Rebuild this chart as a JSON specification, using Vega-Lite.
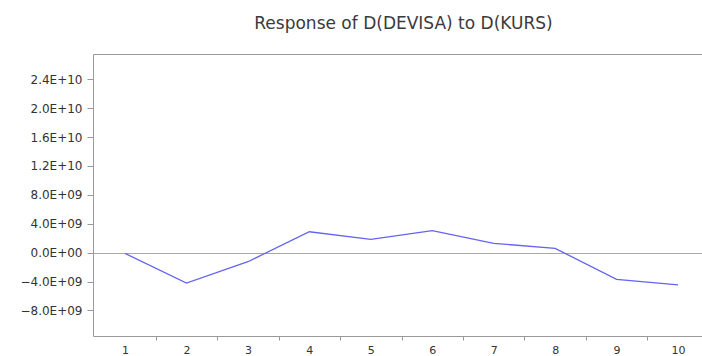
{
  "$schema": "https://vega.github.io/schema/vega-lite/v6.json",
  "autosize": "none",
  "padding": {"left": 93, "top": 54, "right": 0, "bottom": 20},
  "width": 609,
  "height": 282,
  "background": "white",
  "config": {
    "view": {"stroke": "transparent", "strokeWidth": 0},
    "font": "DejaVu Sans"
  },
  "title": {
    "text": "Response of D(DEVISA) to D(KURS)",
    "font": "DejaVu Sans",
    "fontSize": 17,
    "fontWeight": "normal",
    "color": "#3a3a3a",
    "anchor": "middle",
    "frame": "group",
    "dx": 6,
    "offset": 21
  },
  "data": {
    "values": [
      {"period": 1, "response": -0.1e9},
      {"period": 2, "response": -4.2e9},
      {"period": 3, "response": -1.25e9},
      {"period": 4, "response": 2.9e9},
      {"period": 5, "response": 1.85e9},
      {"period": 6, "response": 3.05e9},
      {"period": 7, "response": 1.3e9},
      {"period": 8, "response": 0.6e9},
      {"period": 9, "response": -3.7e9},
      {"period": 10, "response": -4.45e9}
    ]
  },
  "resolve": {"axis": {"x": "independent"}},
  "layer": [
    {
      "mark": {"type": "line", "color": "#6464f0", "strokeWidth": 1.3},
      "encoding": {
        "x": {
          "field": "period",
          "type": "quantitative",
          "scale": {"domain": [0.479, 10.39], "nice": false, "zero": false},
          "axis": {
            "title": null,
            "orient": "bottom",
            "values": [1, 1.5, 2, 2.5, 3, 3.5, 4, 4.5, 5, 5.5, 6, 6.5, 7, 7.5, 8, 8.5, 9, 9.5, 10],
            "labelExpr": "datum.value % 1 === 0 ? datum.value : ''",
            "tickOpacity": {"condition": {"test": "datum.value % 1 === 0", "value": 0}, "value": 1},
            "tickSize": 4,
            "tickColor": "#999999",
            "domainColor": "#999999",
            "labelPadding": 4,
            "labelFontSize": 11,
            "labelFont": "DejaVu Sans",
            "labelColor": "#333333",
            "labelBaseline": "top",
            "grid": false,
            "labelOverlap": false,
            "labelFlush": false
          }
        },
        "y": {
          "field": "response",
          "type": "quantitative",
          "scale": {"domain": [-11.53e9, 27.5e9], "nice": false, "zero": false},
          "axis": {
            "title": null,
            "values": [-8e9, -4e9, 0, 4e9, 8e9, 12e9, 16e9, 20e9, 24e9],
            "labelExpr": "datum.value == 0 ? '0.0E+00' : (format(datum.value / pow(10, floor(log(abs(datum.value)) / LN10 + 1e-9)), '.1f') + 'E+' + (floor(log(abs(datum.value)) / LN10 + 1e-9) < 10 ? '0' : '') + floor(log(abs(datum.value)) / LN10 + 1e-9))",
            "tickSize": 6,
            "tickColor": "#999999",
            "domainColor": "#999999",
            "labelPadding": 5,
            "labelFontSize": 12,
            "labelFont": "DejaVu Sans",
            "labelColor": "#333333",
            "grid": true,
            "gridColor": "#a8a8a8",
            "gridOpacity": {"condition": {"test": "datum.value === 0", "value": 1}, "value": 0},
            "labelOverlap": false,
            "labelFlush": false
          }
        }
      }
    },
    {
      "mark": {"type": "rule", "opacity": 0},
      "encoding": {
        "x": {
          "field": "period",
          "type": "quantitative",
          "axis": {
            "title": null,
            "orient": "top",
            "labels": false,
            "ticks": false,
            "grid": false,
            "domainColor": "#999999"
          }
        }
      }
    }
  ]
}
